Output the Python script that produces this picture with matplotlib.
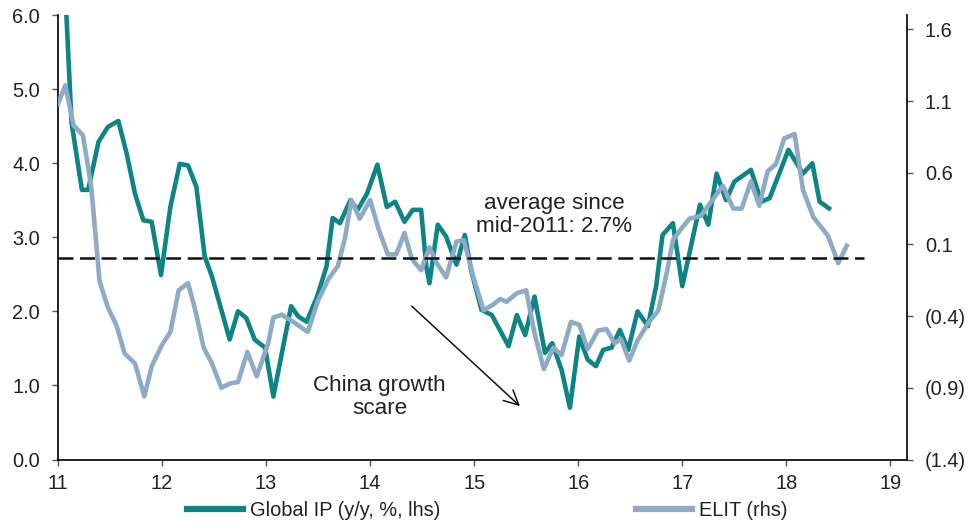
import matplotlib
matplotlib.use("Agg")
import matplotlib.pyplot as plt
from matplotlib.ticker import FuncFormatter

plt.rcParams['font.family'] = ['Liberation Sans', 'DejaVu Sans']
plt.rcParams['lines.scale_dashes'] = False

# Global IP, y/y %, left axis (decimal year, value)
ip_x = [11.04, 11.13, 11.23, 11.29, 11.39, 11.48, 11.58, 11.66, 11.74, 11.82,
        11.90, 11.99, 12.08, 12.17, 12.25, 12.33, 12.41, 12.48, 12.57, 12.65,
        12.73, 12.81, 12.89, 12.99, 13.07, 13.24, 13.31, 13.39, 13.49, 13.58,
        13.64, 13.71, 13.81, 13.88, 13.97, 14.07, 14.16, 14.24, 14.33, 14.41,
        14.49, 14.54, 14.57, 14.65, 14.73, 14.83, 14.91, 14.97, 15.07, 15.17,
        15.33, 15.41, 15.49, 15.58, 15.68, 15.75, 15.84, 15.92, 16.01, 16.09,
        16.17, 16.24, 16.32, 16.40, 16.48, 16.57, 16.67, 16.75, 16.81, 16.91,
        17.00, 17.17, 17.25, 17.33, 17.42, 17.50, 17.66, 17.76, 17.84, 18.02,
        18.16, 18.25, 18.32, 18.41]
ip_y = [7.2, 4.55, 3.64, 3.64, 4.29, 4.49, 4.57, 4.13, 3.59, 3.23,
        3.21, 2.49, 3.41, 3.99, 3.97, 3.68, 2.74, 2.47, 2.02, 1.62,
        2.00, 1.91, 1.62, 1.51, 0.85, 2.07, 1.93, 1.86, 2.20, 2.60,
        3.26, 3.19, 3.50, 3.37, 3.59, 3.98, 3.41, 3.48, 3.21, 3.37,
        3.37, 2.60, 2.38, 3.17, 3.01, 2.63, 3.03, 2.56, 2.02, 1.95,
        1.53, 1.95, 1.68, 2.20, 1.44, 1.57, 1.21, 0.70, 1.66, 1.35,
        1.26, 1.48, 1.51, 1.75, 1.48, 2.00, 1.80, 2.35, 3.03, 3.19,
        2.34, 3.44, 3.17, 3.86, 3.50, 3.75, 3.91, 3.48, 3.53, 4.18,
        3.86, 4.00, 3.48, 3.39]

# ELIT, right axis
elit_x = [11.00, 11.07, 11.15, 11.24, 11.32, 11.40, 11.48, 11.56, 11.64, 11.74,
          11.83, 11.90, 12.00, 12.08, 12.16, 12.25, 12.32, 12.40, 12.48, 12.57,
          12.65, 12.73, 12.82, 12.91, 13.02, 13.07, 13.15, 13.26, 13.40, 13.50,
          13.60, 13.69, 13.76, 13.82, 13.90, 14.00, 14.08, 14.17, 14.25, 14.33,
          14.40, 14.49, 14.57, 14.64, 14.73, 14.83, 14.90, 14.99, 15.09, 15.18,
          15.25, 15.31, 15.41, 15.50, 15.58, 15.67, 15.76, 15.84, 15.93, 16.01,
          16.09, 16.19, 16.27, 16.35, 16.41, 16.49, 16.57, 16.67, 16.77, 16.85,
          16.91, 16.98, 17.07, 17.18, 17.28, 17.39, 17.49, 17.57, 17.66, 17.74,
          17.82, 17.90, 17.98, 18.08, 18.16, 18.26, 18.40, 18.50, 18.58]
elit_y = [1.08, 1.21, 0.93, 0.86, 0.50, -0.16, -0.34, -0.46, -0.66, -0.73,
          -0.96, -0.75, -0.60, -0.51, -0.22, -0.17, -0.36, -0.62, -0.73, -0.90,
          -0.87, -0.86, -0.65, -0.82, -0.59, -0.41, -0.39, -0.44, -0.51, -0.29,
          -0.14, -0.05, 0.15, 0.41, 0.28, 0.41, 0.21, 0.03, 0.03, 0.18,
          0.00, -0.08, 0.08, -0.03, -0.13, 0.12, 0.13, -0.12, -0.36, -0.32,
          -0.28, -0.30, -0.24, -0.22, -0.52, -0.77, -0.62, -0.67, -0.44, -0.46,
          -0.63, -0.50, -0.49, -0.59, -0.56, -0.71, -0.57, -0.45, -0.36, -0.10,
          0.13, 0.20, 0.28, 0.30, 0.40, 0.51, 0.35, 0.35, 0.54, 0.37,
          0.61, 0.66, 0.84, 0.87, 0.48, 0.29, 0.16, -0.03, 0.09]

avg_ip = 2.72
avg_span = [11.0, 18.75]
x_ticks = [11, 12, 13, 14, 15, 16, 17, 18, 19]
left_ticks = [0, 1, 2, 3, 4, 5, 6]
right_ticks = [-1.4, -0.9, -0.4, 0.1, 0.6, 1.1, 1.6]

teal = "#0d8585"
steel = "#8eaac4"
ink = "#222222"

fig = plt.figure(figsize=(9.73, 5.22), dpi=100)
ax = fig.add_axes([0.0596, 0.1197, 0.8726, 0.8515])
ax2 = ax.twinx()

l1, = ax.plot(ip_x, ip_y, color=teal, lw=3.3, solid_joinstyle="round", label="Global IP (y/y, %, lhs)")
l2, = ax2.plot(elit_x, elit_y, color=steel, lw=3.3, solid_joinstyle="round", label="ELIT (rhs)")
# dashed average drawn on top, in lhs units
ax2.plot(avg_span, [avg_ip, avg_ip], transform=ax.transData, color="#111111",
         lw=1.8, dashes=(10.8, 4.7), zorder=5)

ax.set_xlim(11, 19.16)
ax.set_ylim(0, 6)
ax2.set_ylim(-1.4, 1.7)
ax.set_xticks(x_ticks)
ax.set_xticklabels([str(t) for t in x_ticks])
ax.set_yticks(left_ticks)
ax.yaxis.set_major_formatter(FuncFormatter(lambda v, p: "{:.1f}".format(v)))
ax2.set_yticks(right_ticks)
ax2.yaxis.set_major_formatter(FuncFormatter(
    lambda v, p: "({:.1f})".format(-v) if v < 0 else "{:.1f}".format(v)))

for a in (ax, ax2):
    a.spines["top"].set_visible(False)
    for s in a.spines.values():
        s.set_linewidth(1.3)
        s.set_color("#111111")
    a.tick_params(labelsize=14.4, labelcolor=ink, length=4.3, width=1.0,
                  color="#555555", pad=8.5)
ax.tick_params(axis="x", pad=6)
ax2.spines["left"].set_visible(False)
ax2.spines["bottom"].set_visible(False)
ax.spines["right"].set_visible(False)

ax.text(15.77, 3.3, "average since\nmid-2011: 2.7%", ha="center", va="center",
        fontsize=16.2, color=ink, linespacing=1.1)
ax.text(14.09, 0.84, "China growth\nscare", ha="center", va="center",
        fontsize=16.2, color=ink, linespacing=1.1)
ax.annotate("", xy=(15.44, 0.72), xytext=(14.40, 2.07),
            arrowprops=dict(arrowstyle="->", color="#111111", lw=1.1,
                            mutation_scale=26, shrinkA=0, shrinkB=0))

fig.legend(handles=[l1, l2], loc="center left", bbox_to_anchor=(187 / 973, 1 - 510 / 522),
           ncol=2, frameon=False, fontsize=14.4, handlelength=2.8, handletextpad=0.35,
           columnspacing=9.8, borderpad=0, borderaxespad=0, labelcolor=ink)
for h in fig.legends[0].legend_handles:
    h.set_linewidth(4.5)

fig.savefig("out.png", dpi=100)
